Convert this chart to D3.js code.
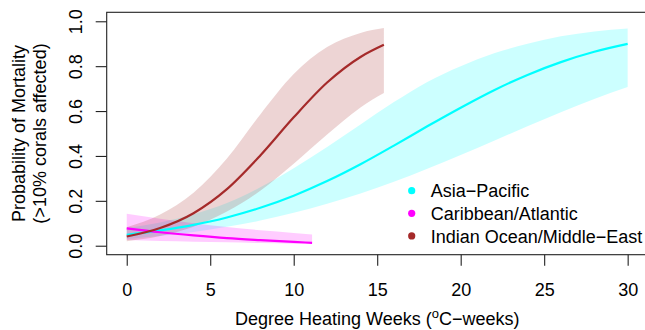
<!DOCTYPE html>
<html>
<head>
<meta charset="utf-8">
<script src="https://cdn.jsdelivr.net/npm/d3@7"></script>
<style>
  body { margin: 0; background: #fff; }
  svg { display: block; font-family: "Liberation Sans", Arial, Helvetica, sans-serif; }
</style>
</head>
<body>
<div id="chart"></div>
<script>
// values
const xTicks = [0, 5, 10, 15, 20, 25, 30];
const yTicks = [0, 0.2, 0.4, 0.6, 0.8, 1.0];
const regions = ["Asia\u2212Pacific", "Caribbean/Atlantic", "Indian Ocean/Middle\u2212East"];
const regionColors = ["#00FFFF", "#FF00FF", "#A52A2A"];

const asiaDhw = [0, 2, 4, 6, 8, 10, 12, 14, 16, 18, 20, 22, 24, 26, 28, 30];
const asiaFit = [0.049, 0.068, 0.093, 0.126, 0.169, 0.223, 0.288, 0.363, 0.446, 0.532, 0.615, 0.693, 0.761, 0.818, 0.864, 0.899];
const asiaLow = [0.030, 0.043, 0.061, 0.084, 0.112, 0.147, 0.187, 0.233, 0.285, 0.343, 0.404, 0.468, 0.532, 0.595, 0.654, 0.707];
const asiaHigh = [0.079, 0.104, 0.140, 0.190, 0.260, 0.345, 0.440, 0.540, 0.640, 0.730, 0.800, 0.857, 0.900, 0.933, 0.955, 0.968];

const caribDhw = [0, 2, 4, 6, 8, 10, 11.1];
const caribFit = [0.077, 0.060, 0.046, 0.034, 0.025, 0.017, 0.013];
const caribLow = [0.025, 0.021, 0.018, 0.015, 0.012, 0.009, 0.008];
const caribHigh = [0.142, 0.120, 0.100, 0.083, 0.069, 0.057, 0.050];

const indianDhw = [0, 2, 4, 6, 8, 10, 12, 14, 15.4];
const indianFit = [0.041, 0.079, 0.145, 0.252, 0.402, 0.572, 0.727, 0.841, 0.895];
const indianLow = [0.020, 0.043, 0.085, 0.152, 0.245, 0.365, 0.495, 0.616, 0.680];
const indianHigh = [0.082, 0.139, 0.236, 0.389, 0.585, 0.765, 0.885, 0.948, 0.970];

const seriesData = [
  { dhw: asiaDhw, fit: asiaFit, low: asiaLow, high: asiaHigh },
  { dhw: caribDhw, fit: caribFit, low: caribLow, high: caribHigh },
  { dhw: indianDhw, fit: indianFit, low: indianLow, high: indianHigh }
];

const width = 645, height = 330;
const plot = { left: 106.7, right: 647.7, top: 12.3, bottom: 254.7 };

const svg = d3.select("#chart").append("svg")
  .attr("width", width)
  .attr("height", height);

const x = d3.scaleLinear().domain([-1.2, 31.2]).range([plot.left, plot.right]);
const y = d3.scaleLinear().domain([-0.04, 1.04]).range([plot.bottom, plot.top]);

// confidence bands
const area = d3.area()
  .curve(d3.curveMonotoneX)
  .x(d => x(d.x))
  .y0(d => y(d.lo))
  .y1(d => y(d.hi));

const line = d3.line()
  .curve(d3.curveMonotoneX)
  .x(d => x(d.x))
  .y(d => y(d.p));

seriesData.forEach((s, i) => {
  const pts = s.dhw.map((v, j) => ({ x: v, lo: s.low[j], hi: s.high[j] }));
  svg.append("path")
    .attr("d", area(pts))
    .attr("fill", regionColors[i])
    .attr("fill-opacity", 0.2);
});

seriesData.forEach((s, i) => {
  const pts = s.dhw.map((v, j) => ({ x: v, p: s.fit[j] }));
  svg.append("path")
    .attr("d", line(pts))
    .attr("fill", "none")
    .attr("stroke", regionColors[i])
    .attr("stroke-width", 2.2);
});

// box
svg.append("rect")
  .attr("x", plot.left)
  .attr("y", plot.top)
  .attr("width", plot.right - plot.left)
  .attr("height", plot.bottom - plot.top)
  .attr("fill", "none")
  .attr("stroke", "#222")
  .attr("stroke-width", 1.1);

// x axis
const xAxisGroup = svg.append("g")
  .attr("transform", `translate(0, ${plot.bottom})`)
  .call(d3.axisBottom(x).tickValues(xTicks).tickSize(11).tickFormat(d3.format("d")));
xAxisGroup.select(".domain").remove();
xAxisGroup.selectAll(".tick line").attr("stroke", "#222").attr("stroke-width", 1.1);
xAxisGroup.selectAll(".tick text")
  .attr("y", 296 - plot.bottom)
  .attr("dy", 0)
  .attr("fill", "#000")
  .style("font-size", "18px")
  .style("font-family", "Liberation Sans, Arial, sans-serif");

// y axis
const yAxisGroup = svg.append("g")
  .attr("transform", `translate(${plot.left}, 0)`)
  .call(d3.axisLeft(y).tickValues(yTicks).tickSize(11).tickFormat(d3.format(".1f")));
yAxisGroup.select(".domain").remove();
yAxisGroup.selectAll(".tick line").attr("stroke", "#222").attr("stroke-width", 1.1);
yAxisGroup.selectAll(".tick text")
  .attr("x", 0)
  .attr("y", 81.5 - plot.left)
  .attr("dy", 0)
  .attr("transform", "rotate(-90)")
  .attr("text-anchor", "middle")
  .attr("fill", "#000")
  .style("font-size", "18px")
  .style("font-family", "Liberation Sans, Arial, sans-serif");

// axis titles
const xTitle = svg.append("text")
  .attr("x", (plot.left + plot.right) / 2)
  .attr("y", 325)
  .attr("text-anchor", "middle")
  .style("font-size", "18px");
xTitle.append("tspan").text("Degree Heating Weeks (");
xTitle.append("tspan").attr("dy", -7).style("font-size", "13px").text("o");
xTitle.append("tspan").attr("dy", 7).text("C\u2212weeks)");

const yMid = (plot.top + plot.bottom) / 2;
[["Probability of Mortality", 24.6], ["(>10% corals affected)", 46.4]].forEach(([t, bx]) => {
  svg.append("text")
    .attr("transform", `translate(${bx}, ${yMid}) rotate(-90)`)
    .attr("text-anchor", "middle")
    .style("font-size", "18px")
    .text(t);
});

// legend
const legend = svg.append("g").attr("transform", "translate(411.7, 190.7)");
regions.forEach((r, i) => {
  const row = legend.append("g").attr("transform", `translate(0, ${i * 22.6})`);
  row.append("circle").attr("r", 3.6).attr("fill", regionColors[i]);
  row.append("text")
    .attr("x", 19)
    .attr("y", 6.6)
    .style("font-size", "18px")
    .text(r);
});
</script>
</body>
</html>
